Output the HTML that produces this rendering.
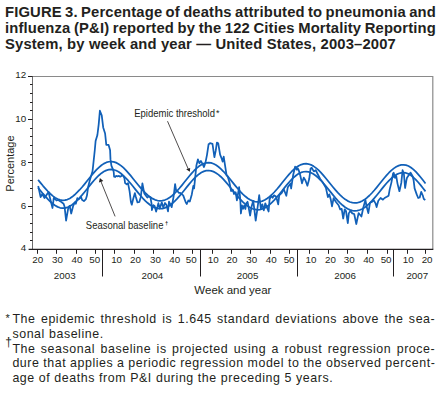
<!DOCTYPE html>
<html><head><meta charset="utf-8"><style>
html,body{margin:0;padding:0;background:#fff;}
body{width:442px;height:394px;position:relative;overflow:hidden;font-family:"Liberation Sans",sans-serif;color:#231f20;}
.t{position:absolute;left:5px;width:431px;font-weight:bold;font-size:14.8px;line-height:16px;white-space:nowrap;letter-spacing:0.15px;}
.j{display:flex;justify-content:space-between;}
.f{position:absolute;left:12.4px;width:423px;font-size:12.4px;line-height:15px;white-space:nowrap;letter-spacing:0.58px;}
svg{position:absolute;left:0;top:0;}
</style></head><body>
<div class="t j" style="top:3.5px"><span>FIGURE</span><span>3.</span><span>Percentage</span><span>of</span><span>deaths</span><span>attributed</span><span>to</span><span>pneumonia</span><span>and</span></div>
<div class="t j" style="top:19.8px"><span>influenza</span><span>(P&amp;I)</span><span>reported</span><span>by</span><span>the</span><span>122</span><span>Cities</span><span>Mortality</span><span>Reporting</span></div>
<div class="t" style="top:36px">System, by week and year — United States, 2003–2007</div>
<svg width="442" height="394" viewBox="0 0 442 394">
<g fill="none" stroke-linecap="butt">
<path d="M32.5,76.5 L432.8,76.5 L432.8,249.4" stroke="#8a8a8a" stroke-width="1.2"/>
<line x1="32.5" y1="76" x2="32.5" y2="249.4" stroke="#6d6d6d" stroke-width="1"/>
<g stroke="#231f20" stroke-width="1"><line x1="30.0" y1="240.50" x2="32.5" y2="240.50"/><line x1="30.0" y1="232.50" x2="32.5" y2="232.50"/><line x1="30.0" y1="223.50" x2="32.5" y2="223.50"/><line x1="30.0" y1="214.50" x2="32.5" y2="214.50"/><line x1="28.0" y1="206.50" x2="32.5" y2="206.50"/><line x1="30.0" y1="197.50" x2="32.5" y2="197.50"/><line x1="30.0" y1="188.50" x2="32.5" y2="188.50"/><line x1="30.0" y1="180.50" x2="32.5" y2="180.50"/><line x1="30.0" y1="171.50" x2="32.5" y2="171.50"/><line x1="28.0" y1="162.50" x2="32.5" y2="162.50"/><line x1="30.0" y1="154.50" x2="32.5" y2="154.50"/><line x1="30.0" y1="145.50" x2="32.5" y2="145.50"/><line x1="30.0" y1="136.50" x2="32.5" y2="136.50"/><line x1="30.0" y1="128.50" x2="32.5" y2="128.50"/><line x1="28.0" y1="119.50" x2="32.5" y2="119.50"/><line x1="30.0" y1="110.50" x2="32.5" y2="110.50"/><line x1="30.0" y1="102.50" x2="32.5" y2="102.50"/><line x1="30.0" y1="93.50" x2="32.5" y2="93.50"/><line x1="30.0" y1="84.50" x2="32.5" y2="84.50"/><line x1="28.0" y1="76.50" x2="32.5" y2="76.50"/></g>
<line x1="28.6" y1="249.4" x2="433.3" y2="249.4" stroke="#231f20" stroke-width="1.2"/>
<g stroke="#231f20" stroke-width="1"><line x1="37.5" y1="249.4" x2="37.5" y2="253.8"/><line x1="56.5" y1="249.4" x2="56.5" y2="253.8"/><line x1="76.5" y1="249.4" x2="76.5" y2="253.8"/><line x1="95.5" y1="249.4" x2="95.5" y2="253.8"/><line x1="114.5" y1="249.4" x2="114.5" y2="253.8"/><line x1="134.5" y1="249.4" x2="134.5" y2="253.8"/><line x1="153.5" y1="249.4" x2="153.5" y2="253.8"/><line x1="173.5" y1="249.4" x2="173.5" y2="253.8"/><line x1="192.5" y1="249.4" x2="192.5" y2="253.8"/><line x1="212.5" y1="249.4" x2="212.5" y2="253.8"/><line x1="231.5" y1="249.4" x2="231.5" y2="253.8"/><line x1="250.5" y1="249.4" x2="250.5" y2="253.8"/><line x1="270.5" y1="249.4" x2="270.5" y2="253.8"/><line x1="289.5" y1="249.4" x2="289.5" y2="253.8"/><line x1="309.5" y1="249.4" x2="309.5" y2="253.8"/><line x1="328.5" y1="249.4" x2="328.5" y2="253.8"/><line x1="347.5" y1="249.4" x2="347.5" y2="253.8"/><line x1="367.5" y1="249.4" x2="367.5" y2="253.8"/><line x1="387.5" y1="249.4" x2="387.5" y2="253.8"/><line x1="407.5" y1="249.4" x2="407.5" y2="253.8"/><line x1="425.5" y1="249.4" x2="425.5" y2="253.8"/><line x1="102.5" y1="249.4" x2="102.5" y2="276.5"/><line x1="200.5" y1="249.4" x2="200.5" y2="276.5"/><line x1="297.5" y1="249.4" x2="297.5" y2="276.5"/><line x1="393.5" y1="249.4" x2="393.5" y2="276.5"/></g>
<g stroke="#1160b8" stroke-width="1.75" stroke-linejoin="round">
<path d="M38.10,179.88 L40.54,182.89 L42.97,185.81 L45.41,188.56 L47.85,191.26 L50.28,193.73 L52.72,195.87 L55.16,197.64 L57.59,199.00 L60.03,199.90 L62.46,200.30 L64.90,200.19 L67.34,199.55 L69.77,198.42 L72.21,196.81 L74.65,194.77 L77.08,192.46 L79.52,189.97 L81.96,187.24 L84.39,184.33 L86.83,181.31 L89.27,178.26 L91.70,175.25 L94.14,172.38 L96.58,169.71 L99.01,167.32 L101.45,165.28 L103.88,163.64 L106.32,162.46 L108.76,161.75 L111.19,161.54 L113.63,161.85 L116.07,162.64 L118.50,163.91 L120.94,165.62 L123.38,167.71 L125.81,170.13 L128.25,172.81 L130.69,175.69 L133.12,178.68 L135.56,181.72 L138.00,184.73 L140.43,187.65 L142.87,190.40 L145.31,192.93 L147.74,195.17 L150.18,197.09 L152.61,198.64 L155.05,199.80 L157.49,200.52 L159.92,200.81 L162.36,200.65 L164.80,200.04 L167.23,198.99 L169.67,197.53 L172.11,195.68 L174.54,193.48 L176.98,190.98 L179.42,188.24 L181.85,185.32 L184.29,182.30 L186.73,179.25 L189.16,176.25 L191.60,173.38 L194.03,170.72 L196.47,168.34 L198.91,166.31 L201.34,164.68 L203.78,163.50 L206.22,162.81 L208.65,162.62 L211.09,162.93 L213.53,163.74 L215.96,165.02 L218.40,166.73 L220.84,168.83 L223.27,171.26 L225.71,173.95 L228.15,176.83 L230.58,179.82 L233.02,182.86 L235.45,185.88 L237.89,188.79 L240.33,191.53 L242.76,194.05 L245.20,196.29 L247.64,198.20 L250.07,199.75 L252.51,200.89 L254.95,201.61 L257.38,201.88 L259.82,201.71 L262.26,201.09 L264.69,200.03 L267.13,198.56 L269.57,196.70 L272.00,194.49 L274.44,191.99 L276.87,189.24 L279.31,186.32 L281.75,183.30 L284.18,180.25 L286.62,177.25 L289.06,174.39 L291.49,171.73 L293.93,169.36 L296.37,167.33 L298.80,165.72 L301.24,164.55 L303.68,163.87 L306.11,163.69 L308.55,164.01 L310.99,164.83 L313.42,166.13 L315.86,167.85 L318.29,169.96 L320.73,172.39 L323.17,175.09 L325.60,177.97 L328.04,180.97 L330.48,184.01 L332.91,187.02 L335.35,189.93 L337.79,192.67 L340.22,195.18 L342.66,197.41 L345.10,199.32 L347.53,200.85 L349.97,201.98 L352.41,202.69 L354.84,202.95 L357.28,202.77 L359.72,202.14 L362.15,201.07 L364.59,199.59 L367.02,197.72 L369.46,195.50 L371.90,192.99 L374.33,190.24 L376.77,187.32 L379.21,184.30 L381.64,181.25 L384.08,178.25 L386.52,175.39 L388.95,172.74 L391.39,170.37 L393.83,168.36 L396.26,166.75 L398.70,165.60 L401.14,164.93 L403.57,164.76 L406.01,165.10 L408.44,165.97 L410.88,167.46 L413.32,169.39 L415.75,171.70 L418.19,174.34 L420.63,177.23 L423.06,180.32 L425.50,183.51"/>
<path d="M38.10,187.76 L40.54,190.78 L42.97,193.70 L45.41,196.45 L47.85,199.15 L50.28,201.61 L52.72,203.75 L55.16,205.53 L57.59,206.88 L60.03,207.78 L62.46,208.18 L64.90,208.07 L67.34,207.44 L69.77,206.30 L72.21,204.69 L74.65,202.66 L77.08,200.35 L79.52,197.86 L81.96,195.13 L84.39,192.21 L86.83,189.19 L89.27,186.14 L91.70,183.14 L94.14,180.27 L96.58,177.60 L99.01,175.21 L101.45,173.17 L103.88,171.53 L106.32,170.34 L108.76,169.64 L111.19,169.43 L113.63,169.73 L116.07,170.53 L118.50,171.80 L120.94,173.50 L123.38,175.59 L125.81,178.01 L128.25,180.70 L130.69,183.57 L133.12,186.57 L135.56,189.61 L138.00,192.62 L140.43,195.54 L142.87,198.29 L145.31,200.81 L147.74,203.06 L150.18,204.98 L152.61,206.53 L155.05,207.68 L157.49,208.41 L159.92,208.70 L162.36,208.53 L164.80,207.92 L167.23,206.88 L169.67,205.41 L172.11,203.56 L174.54,201.36 L176.98,198.87 L179.42,196.13 L181.85,193.21 L184.29,190.19 L186.73,187.14 L189.16,184.14 L191.60,181.27 L194.03,178.61 L196.47,176.23 L198.91,174.19 L201.34,172.57 L203.78,171.39 L206.22,170.69 L208.65,170.50 L211.09,170.82 L213.53,171.63 L215.96,172.91 L218.40,174.62 L220.84,176.72 L223.27,179.15 L225.71,181.83 L228.15,184.71 L230.58,187.71 L233.02,190.75 L235.45,193.76 L237.89,196.67 L240.33,199.42 L242.76,201.94 L245.20,204.18 L247.64,206.09 L250.07,207.63 L252.51,208.78 L254.95,209.49 L257.38,209.77 L259.82,209.59 L262.26,208.97 L264.69,207.92 L267.13,206.44 L269.57,204.58 L272.00,202.38 L274.44,199.87 L276.87,197.13 L279.31,194.21 L281.75,191.19 L284.18,188.14 L286.62,185.14 L289.06,182.27 L291.49,179.62 L293.93,177.24 L296.37,175.22 L298.80,173.60 L301.24,172.44 L303.68,171.75 L306.11,171.57 L308.55,171.90 L310.99,172.72 L313.42,174.01 L315.86,175.74 L318.29,177.84 L320.73,180.28 L323.17,182.97 L325.60,185.86 L328.04,188.85 L330.48,191.90 L332.91,194.90 L335.35,197.81 L337.79,200.55 L340.22,203.07 L342.66,205.30 L345.10,207.20 L347.53,208.74 L349.97,209.87 L352.41,210.57 L354.84,210.84 L357.28,210.65 L359.72,210.02 L362.15,208.96 L364.59,207.47 L367.02,205.60 L369.46,203.39 L371.90,200.88 L374.33,198.13 L376.77,195.21 L379.21,192.18 L381.64,189.13 L384.08,186.14 L386.52,183.28 L388.95,180.63 L391.39,178.26 L393.83,176.25 L396.26,174.64 L398.70,173.48 L401.14,172.81 L403.57,172.65 L406.01,172.98 L408.44,173.85 L410.88,175.35 L413.32,177.28 L415.75,179.59 L418.19,182.23 L420.63,185.12 L423.06,188.20 L425.50,191.40"/>
<path d="M38.2,186.0 L40.6,197.1 L42.3,194.0 L44.5,198.0 L48.5,192.0 L52.5,208.0 L53.8,197.8 L56.5,200.5 L58.2,200.0 L60.5,201.4 L63.6,203.8 L64.6,206.8 L66.1,220.6 L68.2,208.4 L69.7,205.8 L71.2,213.5 L73.2,205.8 L74.8,202.3 L75.8,203.8 L77.3,198.2 L78.6,199.5 L81.0,196.8 L82.0,199.8 L83.9,201.1 L85.9,199.1 L86.9,195.8 L88.2,186.6 L89.9,180.0 L92.5,171.3 L93.2,165.2 L94.8,150.0 L95.6,141.1 L97.4,135.0 L98.7,124.4 L99.9,110.7 L101.7,115.2 L103.2,127.4 L105.1,133.5 L106.3,144.9 L108.6,144.9 L110.1,150.3 L110.5,159.4 L111.4,165.6 L112.9,169.4 L113.7,171.7 L114.1,176.7 L115.2,177.0 L116.0,175.9 L117.9,176.3 L119.0,175.9 L120.2,176.7 L122.1,175.5 L123.2,175.9 L124.4,178.2 L125.1,183.1 L126.7,184.3 L128.0,183.1 L128.6,186.2 L129.6,191.3 L130.9,202.0 L131.8,204.7 L133.1,199.3 L134.9,193.1 L135.8,196.7 L137.5,202.4 L139.3,202.0 L140.7,197.5 L142.4,183.3 L144.3,193.4 L147.3,197.6 L148.9,196.4 L150.4,197.2 L151.5,203.3 L151.9,210.1 L153.4,205.2 L154.6,206.0 L156.1,211.6 L157.6,206.3 L158.4,203.1 L159.7,208.5 L161.8,202.4 L163.3,207.5 L165.0,203.0 L166.5,205.0 L168.0,211.3 L169.0,201.7 L170.7,205.1 L171.7,207.2 L173.6,196.5 L175.1,184.2 L176.1,190.3 L177.6,191.3 L178.7,192.8 L180.2,192.8 L183.2,195.4 L185.8,202.5 L186.8,204.0 L188.3,200.5 L189.8,201.5 L191.8,194.4 L193.3,186.0 L194.1,188.3 L196.4,165.5 L197.9,159.4 L199.4,163.2 L200.9,160.9 L202.5,163.9 L204.0,167.0 L205.5,162.4 L207.0,154.8 L208.6,144.1 L208.7,144.5 L210.0,143.2 L212.5,143.9 L214.4,157.2 L215.7,150.9 L216.9,142.6 L218.2,143.2 L220.1,154.7 L221.4,157.8 L222.6,161.6 L223.7,156.6 L226.6,175.3 L227.7,176.4 L229.4,182.1 L231.1,191.1 L232.9,190.0 L234.0,194.0 L235.7,192.3 L236.9,200.3 L239.1,187.1 L240.3,199.7 L240.9,213.5 L242.0,205.4 L243.1,208.8 L244.3,205.4 L245.4,209.0 L246.2,203.3 L247.6,201.8 L250.1,215.5 L251.6,206.4 L253.2,200.8 L254.2,208.4 L255.7,220.6 L257.2,210.4 L259.2,195.2 L260.8,208.4 L262.3,204.3 L263.8,210.4 L265.3,203.3 L266.9,207.4 L268.6,211.5 L269.6,199.4 L271.1,195.8 L272.6,197.8 L274.1,195.3 L276.2,196.8 L278.2,204.4 L279.2,195.3 L281.8,192.8 L283.8,189.2 L286.3,195.8 L287.8,187.2 L290.6,183.4 L291.1,188.5 L293.1,175.3 L295.1,166.7 L296.7,169.7 L297.7,168.2 L298.8,170.5 L300.3,175.5 L302.0,183.3 L303.8,177.6 L305.5,180.5 L307.4,185.8 L309.2,179.1 L310.6,168.4 L311.7,167.8 L313.8,171.4 L315.7,170.2 L317.6,174.0 L320.2,179.0 L322.7,182.2 L325.9,187.9 L327.9,197.1 L329.3,194.3 L330.7,199.2 L332.0,206.3 L333.6,198.2 L336.0,202.0 L338.6,205.3 L340.2,209.4 L341.7,208.9 L343.2,218.5 L344.7,209.4 L346.0,211.0 L347.8,223.1 L348.8,213.4 L350.3,210.9 L352.3,213.4 L354.2,214.0 L356.3,224.0 L358.6,213.1 L359.8,214.5 L361.4,216.5 L363.4,207.3 L365.4,200.0 L366.5,206.0 L368.3,213.1 L370.0,202.8 L371.7,202.0 L373.4,200.6 L373.7,200.3 L375.4,203.1 L376.6,207.1 L378.3,200.8 L380.6,198.0 L382.9,199.7 L384.6,198.0 L386.8,196.8 L388.6,195.7 L389.7,189.4 L391.4,182.6 L393.1,173.4 L393.7,172.8 L395.0,177.8 L396.2,175.9 L397.5,183.6 L399.4,191.2 L401.3,182.9 L402.6,170.2 L403.9,174.0 L405.1,188.0 L406.4,180.4 L407.0,177.8 L410.6,172.6 L412.6,176.2 L413.6,180.2 L414.6,188.4 L416.7,194.4 L418.2,198.0 L419.7,197.5 L421.2,191.9 L422.8,195.5 L423.8,199.0 L425.3,200.0"/>
</g>
<g stroke="#231f20" stroke-width="0.8">
<line x1="167.5" y1="121.2" x2="188.6" y2="169.8"/>
<line x1="115.1" y1="216.4" x2="100.4" y2="180.2"/>
</g>
<path d="M189.8,171.7 L186.2,169.3 L190.2,167.9 Z" fill="#231f20"/>
<path d="M99.9,177.9 L98.9,182.6 L103.3,180.9 Z" fill="#231f20"/>
</g>
<g font-family="Liberation Sans" font-size="9.3" fill="#231f20">
<text x="26.2" y="78.00" text-anchor="end" font-size="9.8">12</text><text x="26.2" y="122.20" text-anchor="end" font-size="9.8">10</text><text x="26.2" y="166.10" text-anchor="end" font-size="9.8">8</text><text x="26.2" y="209.10" text-anchor="end" font-size="9.8">6</text><text x="26.2" y="251.20" text-anchor="end" font-size="9.8">4</text>
<text x="37.8" y="262.9" text-anchor="middle" font-size="9.8">20</text><text x="57.4" y="262.9" text-anchor="middle" font-size="9.8">30</text><text x="77" y="262.9" text-anchor="middle" font-size="9.8">40</text><text x="94.8" y="262.9" text-anchor="middle" font-size="9.8">50</text><text x="116.6" y="262.9" text-anchor="middle" font-size="9.8">10</text><text x="135.5" y="262.9" text-anchor="middle" font-size="9.8">20</text><text x="155.4" y="262.9" text-anchor="middle" font-size="9.8">30</text><text x="174.7" y="262.9" text-anchor="middle" font-size="9.8">40</text><text x="191.3" y="262.9" text-anchor="middle" font-size="9.8">50</text><text x="213.3" y="262.9" text-anchor="middle" font-size="9.8">10</text><text x="232" y="262.9" text-anchor="middle" font-size="9.8">20</text><text x="251.8" y="262.9" text-anchor="middle" font-size="9.8">30</text><text x="271.2" y="262.9" text-anchor="middle" font-size="9.8">40</text><text x="289.1" y="262.9" text-anchor="middle" font-size="9.8">50</text><text x="311" y="262.9" text-anchor="middle" font-size="9.8">10</text><text x="330.5" y="262.9" text-anchor="middle" font-size="9.8">20</text><text x="349.3" y="262.9" text-anchor="middle" font-size="9.8">30</text><text x="368.6" y="262.9" text-anchor="middle" font-size="9.8">40</text><text x="386.1" y="262.9" text-anchor="middle" font-size="9.8">50</text><text x="408.2" y="262.9" text-anchor="middle" font-size="9.8">10</text><text x="427.1" y="262.9" text-anchor="middle" font-size="9.8">20</text>
<text x="64.7" y="278.8" text-anchor="middle" font-size="9.8">2003</text><text x="152.4" y="278.8" text-anchor="middle" font-size="9.8">2004</text><text x="247.6" y="278.8" text-anchor="middle" font-size="9.8">2005</text><text x="345.1" y="278.8" text-anchor="middle" font-size="9.8">2006</text><text x="417.3" y="278.8" text-anchor="middle" font-size="9.8">2007</text>
<text transform="translate(134.2,117.1) scale(0.95,1)" font-size="10">Epidemic threshold<tspan font-size="9.5" dx="1.2" dy="-1.2">*</tspan></text>
<text transform="translate(85.8,229.3) scale(0.95,1)" font-size="10">Seasonal baseline<tspan font-size="6" font-weight="bold" dx="1.6" dy="-4.6">†</tspan></text>
<text transform="translate(232.9,293.5) scale(0.975,1)" font-size="11.8" text-anchor="middle">Week and year</text>
<text transform="translate(14.1,191.7) rotate(-90)" font-size="11">Percentage</text>
</g>
</svg>
<div class="f j" style="top:311.5px"><span>The</span><span>epidemic</span><span>threshold</span><span>is</span><span>1.645</span><span>standard</span><span>deviations</span><span>above</span><span>the</span><span>sea-</span></div>
<div class="f" style="top:326.5px">sonal baseline.</div>
<div class="f j" style="top:341.8px"><span>The</span><span>seasonal</span><span>baseline</span><span>is</span><span>projected</span><span>using</span><span>a</span><span>robust</span><span>regression</span><span>proce-</span></div>
<div class="f j" style="top:356px"><span>dure</span><span>that</span><span>applies</span><span>a</span><span>periodic</span><span>regression</span><span>model</span><span>to</span><span>the</span><span>observed</span><span>percent-</span></div>
<div class="f" style="top:371.3px">age of deaths from P&amp;I during the preceding 5 years.</div>
<div style="position:absolute;left:5.6px;top:312.6px;font-size:11px;line-height:11px">*</div>
<div style="position:absolute;left:5.3px;top:336.2px;font-size:12px;line-height:12px">†</div>
</body></html>
